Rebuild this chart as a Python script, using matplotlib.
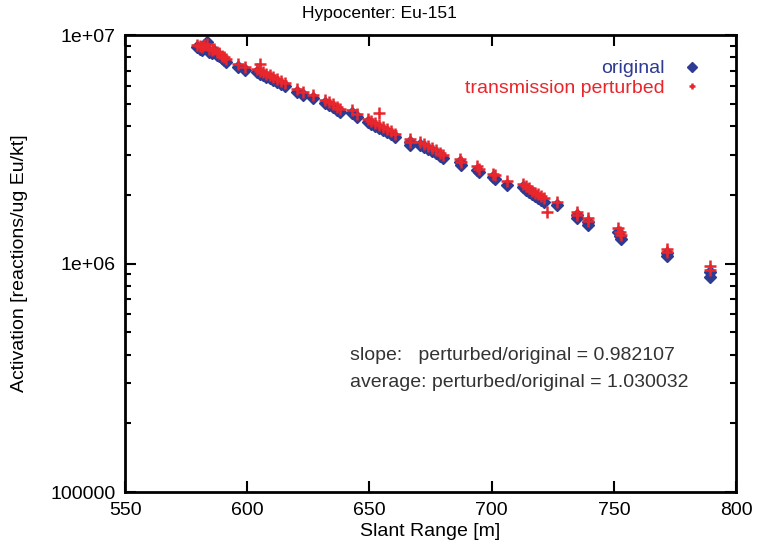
import matplotlib
matplotlib.use('Agg')
import matplotlib.pyplot as plt
from matplotlib.ticker import FixedLocator, LogLocator, NullFormatter

plt.rcParams['font.family'] = ['Liberation Sans', 'DejaVu Sans']

BLUE = '#2d3b92'
RED = '#e8262c'

# slant range [m] of each detector sample
slant_range = [579.5, 580.5, 581.5, 582.5, 583.5, 584.5, 585.5, 586.5, 587.5, 588.5,
               589.5, 590.5, 591.5,
               596.2, 599.1,
               604.0, 605.2, 606.5, 607.7, 609.3, 610.6, 612.2, 613.8, 615.5,
               620.4, 622.8, 626.9,
               631.8, 633.5, 635.1, 636.7, 638.0,
               642.9, 644.9,
               649.4, 650.7, 652.3, 653.9, 655.6, 657.2, 658.8, 660.5,
               666.6, 666.6,
               670.7, 672.3, 674.0, 675.6, 677.2, 678.9, 680.1,
               687.1, 687.5, 694.0, 694.8, 700.6, 701.4, 706.3,
               712.8, 714.0, 715.2, 716.5, 717.8, 719.0, 720.2, 721.5,
               726.8, 735.0, 735.0, 739.4, 739.4,
               751.7, 752.5, 753.0, 771.8, 771.8, 789.4, 789.4]

# activation, original transmission [reactions/ug Eu/kt]
original = [8.86e6, 8.68e6, 8.60e6, 8.77e6, 9.32e6, 8.43e6, 8.34e6, 8.51e6, 8.18e6, 8.09e6,
            7.93e6, 7.78e6, 7.62e6,
            7.24e6, 7.03e6,
            6.89e6, 6.75e6, 6.68e6, 6.55e6, 6.48e6, 6.35e6, 6.23e6, 6.10e6, 5.98e6,
            5.63e6, 5.46e6, 5.30e6,
            5.04e6, 4.94e6, 4.84e6, 4.70e6, 4.60e6,
            4.56e6, 4.38e6,
            4.16e6, 4.08e6, 4.00e6, 3.92e6, 3.84e6, 3.76e6, 3.69e6, 3.58e6,
            3.40e6, 3.30e6,
            3.30e6, 3.24e6, 3.17e6, 3.11e6, 3.05e6, 2.95e6, 2.90e6,
            2.78e6, 2.70e6, 2.57e6, 2.51e6, 2.39e6, 2.35e6, 2.21e6,
            2.16e6, 2.10e6, 2.06e6, 2.01e6, 1.97e6, 1.94e6, 1.90e6, 1.86e6,
            1.80e6, 1.63e6, 1.58e6, 1.52e6, 1.47e6,
            1.37e6, 1.32e6, 1.28e6, 1.11e6, 1.08e6, 0.918e6, 0.874e6]

# activation, transmission perturbed
perturbed = [9.10e6, 8.95e6, 8.85e6, 9.05e6, 9.20e6, 8.70e6, 8.60e6, 8.75e6, 8.45e6, 8.35e6,
             8.15e6, 8.00e6, 7.85e6,
             7.45e6, 7.25e6,
             7.10e6, 6.95e6, 6.90e6, 6.75e6, 6.70e6, 6.55e6, 6.42e6, 6.30e6, 6.15e6,
             5.80e6, 5.62e6, 5.45e6,
             5.20e6, 5.10e6, 5.00e6, 4.85e6, 4.75e6,
             4.70e6, 4.52e6,
             4.30e6, 4.22e6, 4.12e6, 4.05e6, 3.96e6, 3.88e6, 3.80e6, 3.70e6,
             3.52e6, 3.42e6,
             3.42e6, 3.35e6, 3.28e6, 3.21e6, 3.15e6, 3.05e6, 3.00e6,
             2.88e6, 2.80e6, 2.67e6, 2.60e6, 2.48e6, 2.44e6, 2.30e6,
             2.24e6, 2.18e6, 2.14e6, 2.08e6, 2.04e6, 2.01e6, 1.97e6, 1.93e6,
             1.87e6, 1.69e6, 1.64e6, 1.58e6, 1.53e6,
             1.43e6, 1.38e6, 1.34e6, 1.16e6, 1.13e6, 0.975e6, 0.94e6]

# a few perturbed samples that stand apart from the rest
extra_range = [605.2, 653.9, 722.7]
extra_perturbed = [7.46e6, 4.56e6, 1.68e6]

xticks = [550, 600, 650, 700, 750, 800]
yticks = [1e5, 1e6, 1e7]
ytick_labels = ['100000', '1e+06', '1e+07']

fig = plt.figure(figsize=(7.58, 5.51), dpi=100)
ax = fig.add_axes([0.165, 0.107, 0.806, 0.829])

ax.plot(slant_range, original, 'D', color=BLUE, markersize=6, linestyle='none',
        label='original')
ax.plot(slant_range + extra_range, perturbed + extra_perturbed, '+', color=RED,
        markersize=9, markeredgewidth=1.8, linestyle='none',
        label='transmission perturbed')

ax.set_yscale('log')
ax.set_xlim(550, 800)
ax.set_ylim(1e5, 1e7)
ax.xaxis.set_major_locator(FixedLocator(xticks))
ax.yaxis.set_major_locator(FixedLocator(yticks))
ax.set_yticklabels(ytick_labels)
ax.yaxis.set_minor_locator(LogLocator(base=10, subs=range(2, 10)))
ax.yaxis.set_minor_formatter(NullFormatter())

ax.tick_params(which='both', direction='in', top=True, right=True,
               labelsize=14, width=1.5, pad=7)
ax.tick_params(which='major', length=8)
ax.tick_params(which='minor', length=4)
for s in ax.spines.values():
    s.set_linewidth(2)

ax.set_xlabel('Slant Range [m]', fontsize=14, labelpad=3)
ax.set_ylabel('Activation [reactions/ug Eu/kt]', fontsize=14, labelpad=16)
fig.text(0.5, 0.975, 'Hypocenter: Eu-151', fontsize=12.5, ha='center', va='center')

leg = ax.legend(loc='upper right', bbox_to_anchor=(0.979, 0.989), markerfirst=False,
                frameon=False, fontsize=14, labelcolor=[BLUE, RED], handlelength=1.2,
                handletextpad=0.8, labelspacing=0.1, borderaxespad=0.6)
for h in leg.legend_handles:
    h.set_markersize(5)

ax.text(0.368, 0.30, 'slope:   perturbed/original = 0.982107', transform=ax.transAxes,
        fontsize=14, color='#333333', va='center')
ax.text(0.368, 0.239, 'average: perturbed/original = 1.030032', transform=ax.transAxes,
        fontsize=14, color='#333333', va='center')

fig.savefig('out.png', dpi=100)
